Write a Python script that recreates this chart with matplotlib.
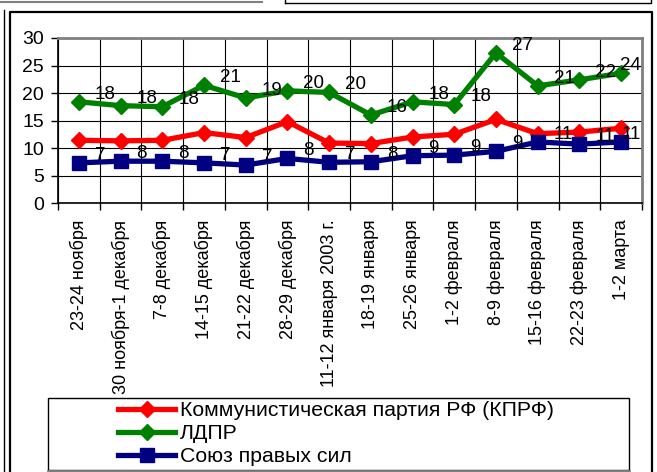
import matplotlib
matplotlib.use("Agg")
import matplotlib.pyplot as plt
from matplotlib.lines import Line2D
from matplotlib.patches import Rectangle
from matplotlib.ticker import MultipleLocator, FixedLocator

plt.rcParams['font.family'] = ['Liberation Sans', 'DejaVu Sans']

categories = ["23-24 ноября", "30 ноября-1 декабря", "7-8 декабря", "14-15 декабря",
              "21-22 декабря", "28-29 декабря", "11-12 января 2003 г.", "18-19 января",
              "25-26 января", "1-2 февраля", "8-9 февраля", "15-16 февраля",
              "22-23 февраля", "1-2 марта"]
kprf = [11.4, 11.3, 11.4, 12.8, 11.9, 14.8, 10.9, 10.8, 12.0, 12.5, 15.2, 12.6, 12.9, 13.6]
ldpr = [18.4, 17.7, 17.5, 21.4, 19.1, 20.4, 20.1, 16.0, 18.4, 17.9, 27.3, 21.3, 22.4, 23.6]
sps = [7.3, 7.6, 7.6, 7.3, 6.9, 8.1, 7.4, 7.5, 8.6, 8.7, 9.4, 11.1, 10.7, 11.1]
ldpr_labels = [18, 18, 18, 21, 19, 20, 20, 16, 18, 18, 27, 21, 22, 24]
sps_labels = [7, 8, 8, 7, 7, 8, 7, 8, 9, 9, 9, 11, 11, 11]
series_names = ["Коммунистическая партия РФ (КПРФ)", "ЛДПР", "Союз правых сил"]

W, H = 657, 472
fig = plt.figure(figsize=(W / 100, H / 100), dpi=100)

def fx(x):
    return x / W

def fy(y):
    return 1 - y / H

# decorative frames
fig.add_artist(Line2D([fx(0), fx(262)], [fy(1.5), fy(1.5)], color='#808080', lw=1.5))
fig.add_artist(Line2D([fx(285), fx(651), fx(651)], [fy(2.5), fy(2.5), fy(0)], color='black', lw=1))
fig.add_artist(Line2D([fx(285), fx(285)], [fy(0), fy(2.5)], color='black', lw=1))
fig.add_artist(Line2D([fx(3.5), fx(3.5)], [fy(10), fy(H)], color='black', lw=1))
fig.add_artist(Line2D([fx(10), fx(10), fx(652), fx(652)], [fy(H), fy(12), fy(12), fy(H)],
                      color='black', lw=1.6))

ax = fig.add_axes([fx(58), fy(203), (642 - 58) / W, (203 - 38) / H])
x = list(range(len(categories)))

ax.plot(x, kprf, color='#FF0000', lw=3.8, marker='D', ms=8.5, mec='#FF0000', zorder=3,
        label=series_names[0])
ax.plot(x, ldpr, color='#008000', lw=3.8, marker='D', ms=8.5, mec='#008000', zorder=3,
        label=series_names[1])
ax.plot(x, sps, color='#000080', lw=3.8, marker='s', ms=10, mec='#000080', zorder=3,
        label=series_names[2])

ax.set_xlim(-0.5, len(categories) - 0.5)
ax.set_ylim(0, 30)
ax.yaxis.set_major_locator(MultipleLocator(5))
ax.xaxis.set_major_locator(FixedLocator(x))
ax.xaxis.set_minor_locator(FixedLocator([i - 0.5 for i in range(len(categories) + 1)]))
ax.set_xticklabels(categories, rotation=90, fontsize=13)
ax.tick_params(axis='x', which='major', length=0, pad=12)
ax.tick_params(axis='x', which='minor', length=5, width=1, direction='out')
ax.tick_params(axis='y', which='major', length=5, width=1, direction='out', pad=5, labelsize=14)
ax.grid(True, axis='y', which='major', color='black', lw=0.8)
ax.grid(True, axis='x', which='minor', color='black', lw=0.8)
ax.set_axisbelow(True)
for s in ['top', 'right']:
    ax.spines[s].set_color('#808080')
    ax.spines[s].set_linewidth(2)
for s in ['left', 'bottom']:
    ax.spines[s].set_color('black')
    ax.spines[s].set_linewidth(1.2)

def add_labels(vals, labels):
    n = len(vals)
    for i, (v, lab) in enumerate(zip(vals, labels)):
        if i == n - 1:
            ax.annotate(str(lab), xy=(1.0, v), xycoords=('axes fraction', 'data'),
                        xytext=(-1, 5.5), textcoords='offset points', ha='right', va='center',
                        fontsize=13.5, zorder=4)
        else:
            ax.annotate(str(lab), xy=(i, v), xytext=(11.5, 5.5), textcoords='offset points',
                        ha='left', va='center', fontsize=13.5, zorder=4)

add_labels(ldpr, ldpr_labels)
add_labels(sps, sps_labels)

# legend box
fig.add_artist(Rectangle((fx(48), fy(470)), (629 - 48) / W, (470 - 398) / H,
                         transform=fig.transFigure, facecolor='white', edgecolor='black',
                         lw=1, zorder=3))
fig.add_artist(Line2D([fx(48), fx(629)], [fy(470.5), fy(470.5)], color='#808080', lw=2, zorder=3.5))
handles, labels = ax.get_legend_handles_labels()
fig.legend(handles, labels, loc='upper left', bbox_to_anchor=(fx(118), fy(401)),
           frameon=False, fontsize=15.3, handlelength=2.7, handletextpad=0.2,
           labelspacing=0.2, borderpad=0, borderaxespad=0, numpoints=1)

fig.savefig('out.png', dpi=100)
